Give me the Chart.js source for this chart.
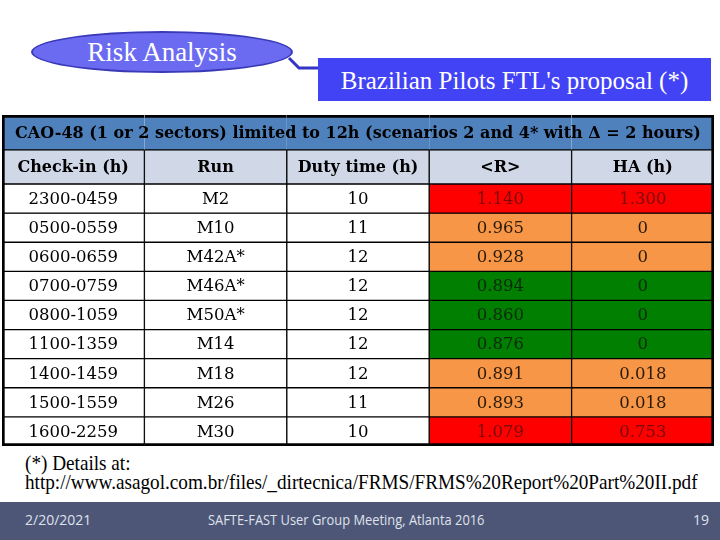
<!DOCTYPE html>
<html>
<head>
<meta charset="utf-8">
<script src="https://cdn.jsdelivr.net/npm/chart.js@4"></script>
<style>
  html,body{margin:0;padding:0;background:#fff;}
  body{width:720px;height:540px;position:relative;overflow:hidden;font-family:'Liberation Serif',serif;}
  #oval{position:absolute;left:31px;top:31px;width:258px;height:38px;border:2px solid #3a3ab8;border-radius:50%;
        background:#6b6bf2;color:#fff;font-size:27px;text-align:center;line-height:38px;}
  #box{position:absolute;left:318px;top:58px;width:393px;height:43px;background:#4343f6;color:#fff;
       font-size:25px;line-height:45px;text-align:center;}
  #link{position:absolute;left:0;top:0;}
  #wrap{position:absolute;left:2px;top:115px;width:712px;height:331px;}
  #note{position:absolute;left:25px;top:454px;font-size:21px;line-height:19px;color:#000;
        transform:scaleX(0.914);transform-origin:left top;white-space:nowrap;}
  #foot{position:absolute;left:0;top:502px;width:720px;height:38px;background:#4d5677;color:#dfe2ec;
        font-family:'Open Sans',sans-serif;font-size:14px;}
  #foot span{position:absolute;top:8px;}
</style>
</head>
<body>
<svg id="link" width="720" height="120"><polyline points="289,58 299,68 318,68" fill="none" stroke="#3434c8" stroke-width="3"/></svg>
<div id="oval">Risk Analysis</div>
<div id="box">Brazilian Pilots FTL's proposal (*)</div>
<div id="wrap"><canvas id="tableChart"></canvas></div>
<div id="note">(*) Details at:<br>http://www.asagol.com.br/files/_dirtecnica/FRMS/FRMS%20Report%20Part%20II.pdf</div>
<div id="foot"><span style="left:25px">2/20/2021</span><span style="left:208px;transform:scaleX(0.92);transform-origin:left top">SAFTE-FAST User Group Meeting, Atlanta 2016</span><span style="left:693px">19</span></div>
<script>
// ── table data ─────────────────────────────────────
const TITLE = 'CAO-48 (1 or 2 sectors) limited to 12h (scenarios 2 and 4* with \u0394 = 2 hours)';
const columns = ['Check-in (h)', 'Run', 'Duty time (h)', '<R>', 'HA (h)'];
const checkIn = ['2300-0459','0500-0559','0600-0659','0700-0759','0800-1059','1100-1359','1400-1459','1500-1559','1600-2259'];
const runs = ['M2','M10','M42A*','M46A*','M50A*','M14','M18','M26','M30'];
const dutyTime = [10, 11, 12, 12, 12, 12, 12, 11, 10];
const rMean = [1.140, 0.965, 0.928, 0.894, 0.860, 0.876, 0.891, 0.893, 1.079];
const haHours = [1.300, 0, 0, 0, 0, 0, 0.018, 0.018, 0.753];
const riskLevel = ['high','medium','medium','low','low','low','medium','medium','high'];

const RISK = {
  high:   {bg:'#ff0000', fg:'#7a0a0a'},
  medium: {bg:'#f79646', fg:'#2a1a08'},
  low:    {bg:'#007f00', fg:'#0c2a0c'}
};
const FILL = {title:'#4f81bd', head:'#d0d8e8', cell:'#ffffff'};

const fmtNum = v => v === 0 ? '0' : v.toFixed(3);
const rowText = i => [checkIn[i], runs[i], String(dutyTime[i]), fmtNum(rMean[i]), fmtNum(haHours[i])];

// row bands in row units (title and header a bit taller)
const TITLE_H = 1.2, HEAD_H = 1.17;
const top0 = TITLE_H + HEAD_H;
const yMax = top0 + checkIn.length;

const edge = (ctx, isTop, isBottom) => {
  const c = ctx.dataIndex;
  return {top: isTop ? 3 : 1, bottom: isBottom ? 3 : 1, left: c === 0 ? 3 : 1, right: c === columns.length - 1 ? 3 : 1};
};

const datasets = [];
datasets.push({
  label: 'title', kind: 'title', texts: [TITLE],
  data: columns.map(() => [0, TITLE_H]),
  backgroundColor: FILL.title, borderColor: '#000',
  borderWidth: ctx => { const e = edge(ctx, true, false); if (ctx.dataIndex > 0) e.left = 0; if (ctx.dataIndex < columns.length - 1) e.right = 0; return e; }
});
datasets.push({
  label: 'header', kind: 'head', texts: columns,
  data: columns.map(() => [TITLE_H, top0]),
  backgroundColor: FILL.head, borderColor: '#000',
  borderWidth: ctx => edge(ctx, false, false)
});
checkIn.forEach((_, i) => {
  const lvl = RISK[riskLevel[i]];
  datasets.push({
    label: 'row' + i, kind: 'row', texts: rowText(i),
    colors: columns.map((_, c) => c >= 3 ? lvl.fg : '#000'),
    data: columns.map(() => [top0 + i, top0 + i + 1]),
    backgroundColor: columns.map((_, c) => c >= 3 ? lvl.bg : FILL.cell),
    borderColor: '#000',
    borderWidth: ctx => edge(ctx, false, i === checkIn.length - 1)
  });
});
datasets.forEach(d => { d.grouped = false; d.barPercentage = 1; d.categoryPercentage = 1; d.borderSkipped = false; });

const cellText = {
  id: 'cellText',
  afterDatasetsDraw(chart) {
    const ctx = chart.ctx;
    ctx.save();
    ctx.textAlign = 'center';
    ctx.textBaseline = 'middle';
    chart.data.datasets.forEach((ds, di) => {
      const els = chart.getDatasetMeta(di).data;
      if (ds.kind === 'title') {
        const first = els[0], last = els[els.length - 1];
        const l = first.x - first.width / 2, r = last.x + last.width / 2;
        const cy = (first.y + first.base) / 2;
        let size = 18;
        ctx.font = `bold ${size}px 'DejaVu Serif', serif`;
        while (ctx.measureText(ds.texts[0]).width > (r - l) - 20 && size > 8) {
          size -= 0.25;
          ctx.font = `bold ${size}px 'DejaVu Serif', serif`;
        }
        ctx.fillStyle = '#000';
        ctx.fillText(ds.texts[0], (l + r) / 2, cy + 1);
        return;
      }
      ctx.font = ds.kind === 'head' ? "bold 16px 'DejaVu Serif', serif" : "16.5px 'DejaVu Serif', serif";
      els.forEach((el, c) => {
        ctx.fillStyle = ds.colors ? ds.colors[c] : '#000';
        ctx.fillText(ds.texts[c], el.x, (el.y + el.base) / 2 + 1);
      });
    });
    ctx.restore();
  }
};

new Chart(document.getElementById('tableChart'), {
  type: 'bar',
  data: {labels: columns, datasets},
  options: {
    responsive: true, maintainAspectRatio: false, animation: false,
    layout: {padding: 0},
    plugins: {legend: {display: false}, tooltip: {enabled: false}},
    scales: {
      x: {display: false},
      y: {display: false, reverse: true, min: 0, max: yMax}
    }
  },
  plugins: [cellText]
});
</script>
</body>
</html>
